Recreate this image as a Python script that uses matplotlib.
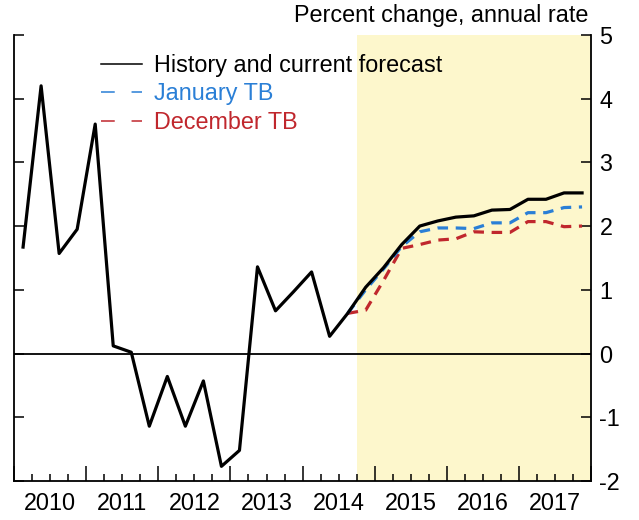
import matplotlib
matplotlib.use("Agg")
import matplotlib.pyplot as plt
from matplotlib.lines import Line2D
import numpy as np

plt.rcParams['font.family'] = ['Liberation Sans', 'DejaVu Sans']
plt.rcParams['axes.unicode_minus'] = False

years = [2010, 2011, 2012, 2013, 2014, 2015, 2016, 2017]

history = [1.67, 4.20, 1.57, 1.95, 3.60, 0.12, 0.02, -1.14,
           -0.36, -1.14, -0.43, -1.77, -1.52, 1.36, 0.67, 0.97,
           1.28, 0.27, 0.63, 1.04, 1.35, 1.71, 2.00, 2.08,
           2.14, 2.16, 2.25, 2.26, 2.42, 2.42, 2.52, 2.52]
january_tb = [0.63, 1.00, 1.33, 1.68, 1.91, 1.97, 1.97, 1.96,
              2.05, 2.05, 2.21, 2.21, 2.29, 2.30]
december_tb = [0.63, 0.68, 1.15, 1.65, 1.71, 1.78, 1.80, 1.91,
               1.90, 1.90, 2.07, 2.07, 1.99, 2.00]
labels = ['History and current forecast', 'January TB', 'December TB']
forecast_start = 18  # 2014Q3 index, where the vintages start
shade_start = 19     # 2014Q4

fs = 16.8
fig = plt.figure(figsize=(6.39, 5.20), dpi=100)
ax = fig.add_axes([0.022, 0.075, 0.903, 0.858])

n = len(history)
x_hist = np.arange(n) + 0.5
x_fc = np.arange(forecast_start, forecast_start + len(january_tb)) + 0.5

ax.axvspan(shade_start, n, color='#fdf7cc', lw=0, zorder=0)
ax.axhline(0, color='black', lw=1.3, zorder=1)

blue = '#2a7fd6'
red = '#c0272d'
dash = (3.3, 2.4)
ax.plot(x_fc, january_tb, color=blue, lw=2.3, dashes=dash, zorder=3)
ax.plot(x_fc, december_tb, color=red, lw=2.3, dashes=dash, zorder=2)
ax.plot(x_hist, history, color='black', lw=2.3, zorder=4)

ax.set_xlim(0, n)
ax.set_ylim(-2, 5)
ax.set_xticks(np.arange(0, n + 1, 4))
ax.set_xticks(np.arange(0, n + 1, 1), minor=True)
ax.set_xticklabels([])
for i, yr in enumerate(years):
    ax.text(4 * i + 2, -2.17, str(yr), ha='center', va='top', fontsize=fs,
            transform=ax.transData)
ax.set_yticks(np.arange(-2, 6, 1))
ax.set_yticklabels([str(v) for v in range(-2, 6)])
ax.tick_params(axis='x', which='major', direction='in', length=11, width=1.1,
               bottom=True, top=False)
ax.tick_params(axis='x', which='minor', direction='in', length=5, width=1.1,
               bottom=True, top=False)
ax.tick_params(axis='y', which='major', direction='in', length=7, width=1.1,
               left=True, right=True, labelleft=False, labelright=True,
               labelsize=fs, pad=6)
for s in ['left', 'right', 'bottom']:
    ax.spines[s].set_linewidth(1.3)
ax.spines['top'].set_visible(False)

h1 = Line2D([], [], color='black', lw=1.1)
h2 = Line2D([], [], color=blue, lw=1.1, dashes=(9, 11))
h3 = Line2D([], [], color=red, lw=1.1, dashes=(9, 11))
leg = ax.legend(handles=[h1, h2, h3], labels=labels, loc='upper left',
                bbox_to_anchor=(0.135, 0.978), frameon=False, fontsize=fs,
                handlelength=1.75, handletextpad=0.5, labelspacing=0.23,
                borderaxespad=0)
for t, c in zip(leg.get_texts(), ['black', blue, red]):
    t.set_color(c)

fig.text(0.92, 0.971, 'Percent change, annual rate', ha='right', va='center',
         fontsize=fs)

fig.savefig('out.png', dpi=100)
